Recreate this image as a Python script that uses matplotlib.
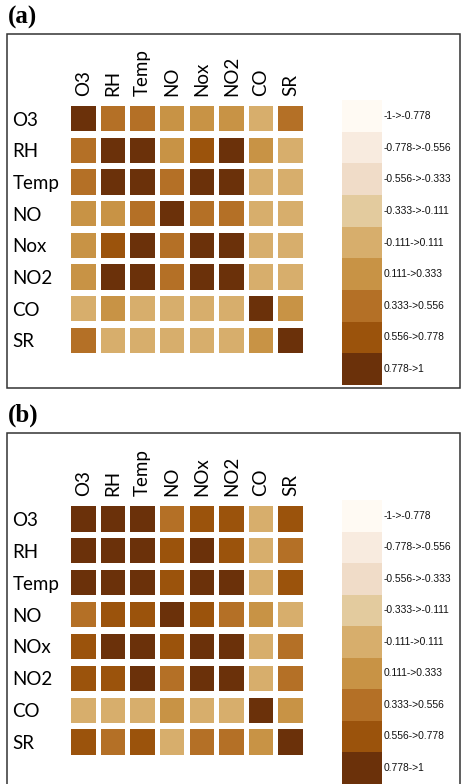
import numpy as np
import matplotlib.pyplot as plt
from matplotlib.colors import ListedColormap, BoundaryNorm
from matplotlib.patches import Rectangle

W, H = 461, 784

vars_a = ["O3", "RH", "Temp", "NO", "Nox", "NO2", "CO", "SR"]
vars_b = ["O3", "RH", "Temp", "NO", "NOx", "NO2", "CO", "SR"]

# correlation coefficients, period (a)
corr_a = [
    [1.00, 0.45, 0.42, 0.20, 0.18, 0.20, 0.02, 0.40],
    [0.45, 1.00, 0.90, 0.22, 0.70, 0.85, 0.20, -0.05],
    [0.42, 0.90, 1.00, 0.40, 0.85, 0.88, 0.05, 0.00],
    [0.20, 0.22, 0.40, 1.00, 0.45, 0.40, 0.05, 0.00],
    [0.18, 0.70, 0.85, 0.45, 1.00, 0.95, 0.05, 0.00],
    [0.20, 0.85, 0.88, 0.40, 0.95, 1.00, 0.05, 0.00],
    [0.02, 0.20, 0.05, 0.05, 0.05, 0.05, 1.00, 0.20],
    [0.40, -0.05, 0.00, 0.00, 0.00, 0.00, 0.20, 1.00],
]

# correlation coefficients, period (b)
corr_b = [
    [1.00, 0.88, 0.90, 0.45, 0.70, 0.68, 0.05, 0.65],
    [0.88, 1.00, 0.92, 0.70, 0.82, 0.72, 0.00, 0.50],
    [0.90, 0.92, 1.00, 0.68, 0.85, 0.80, 0.02, 0.70],
    [0.45, 0.70, 0.68, 1.00, 0.72, 0.50, 0.20, 0.05],
    [0.70, 0.82, 0.85, 0.72, 1.00, 0.95, 0.05, 0.45],
    [0.68, 0.72, 0.80, 0.50, 0.95, 1.00, 0.05, 0.45],
    [0.05, 0.00, 0.02, 0.20, 0.05, 0.05, 1.00, 0.25],
    [0.65, 0.50, 0.70, 0.05, 0.45, 0.45, 0.25, 1.00],
]

bounds = np.linspace(-1, 1, 10)
bin_labels = ["-1->-0.778", "-0.778->-0.556", "-0.556->-0.333", "-0.333->-0.111",
              "-0.111->0.111", "0.111->0.333", "0.333->0.556", "0.556->0.778",
              "0.778->1"]
bin_colors = ["#FFFAF3", "#F8EBDF", "#F0DCC8", "#E3CB9E", "#D7AE6C",
              "#C89345", "#B47026", "#9B530C", "#6B310A"]

cmap = ListedColormap(bin_colors)
norm = BoundaryNorm(bounds, cmap.N)

fig = plt.figure(figsize=(W / 100, H / 100), dpi=100)


def px_axes(left, top, right, bottom):
    return fig.add_axes([left / W, 1 - bottom / H, (right - left) / W, (bottom - top) / H])


def draw_matrix(ax, corr, names):
    corr = np.array(corr)
    n = len(names)
    gx, gy = 0.085, 0.10
    for i in range(n):
        for j in range(n):
            ax.add_patch(Rectangle((j + gx, i + gy), 1 - 2 * gx, 1 - 2 * gy,
                                   facecolor=cmap(norm(corr[i, j])), edgecolor="none"))
    ax.set_xlim(0, n)
    ax.set_ylim(n, 0)
    ax.xaxis.tick_top()
    ax.set_xticks(np.arange(n) + 0.5)
    ax.set_xticklabels(names, rotation=90, fontsize=13.5, family="Lato", va="bottom")
    ax.set_yticks(np.arange(n) + 0.5)
    ax.set_yticklabels(names, fontsize=13.5, family="Lato", ha="left")
    ax.tick_params(length=0)
    ax.tick_params(axis="y", pad=40.5)
    ax.tick_params(axis="x", pad=5)
    for s in ax.spines.values():
        s.set_visible(False)


def draw_key(ax):
    centers = (bounds[:-1] + bounds[1:]) / 2
    ax.pcolormesh([0, 1], np.arange(10), centers.reshape(-1, 1), cmap=cmap, norm=norm)
    ax.set_xlim(0, 1)
    ax.set_ylim(9, 0)
    for k, lab in enumerate(bin_labels):
        ax.text(1.03, k + 0.5, lab, fontsize=7.4, family="Liberation Sans",
                va="center", ha="left", color="#111111")
    ax.set_axis_off()


# outer frames
for top, bottom in [(34, 388), (433, 800)]:
    fig.patches.append(Rectangle((7 / W, 1 - bottom / H), (460 - 7) / W, (bottom - top) / H,
                                 transform=fig.transFigure, fill=False,
                                 edgecolor="#333333", linewidth=1.1))

fig.text(8 / W, 1 - 6 / H, "(a)", fontsize=18, fontweight="bold",
         family="Liberation Serif", va="top", ha="left")
fig.text(8 / W, 1 - 404 / H, "(b)", fontsize=18, fontweight="bold",
         family="Liberation Serif", va="top", ha="left")

ax_a = px_axes(68.5, 102.8, 305.5, 356.2)
draw_matrix(ax_a, corr_a, vars_a)
draw_key(px_axes(342, 100, 382, 385))

ax_b = px_axes(68.5, 502.8, 305.5, 758.2)
draw_matrix(ax_b, corr_b, vars_b)
draw_key(px_axes(342, 500, 382, 783.5))

fig.savefig("out.png", dpi=100)
